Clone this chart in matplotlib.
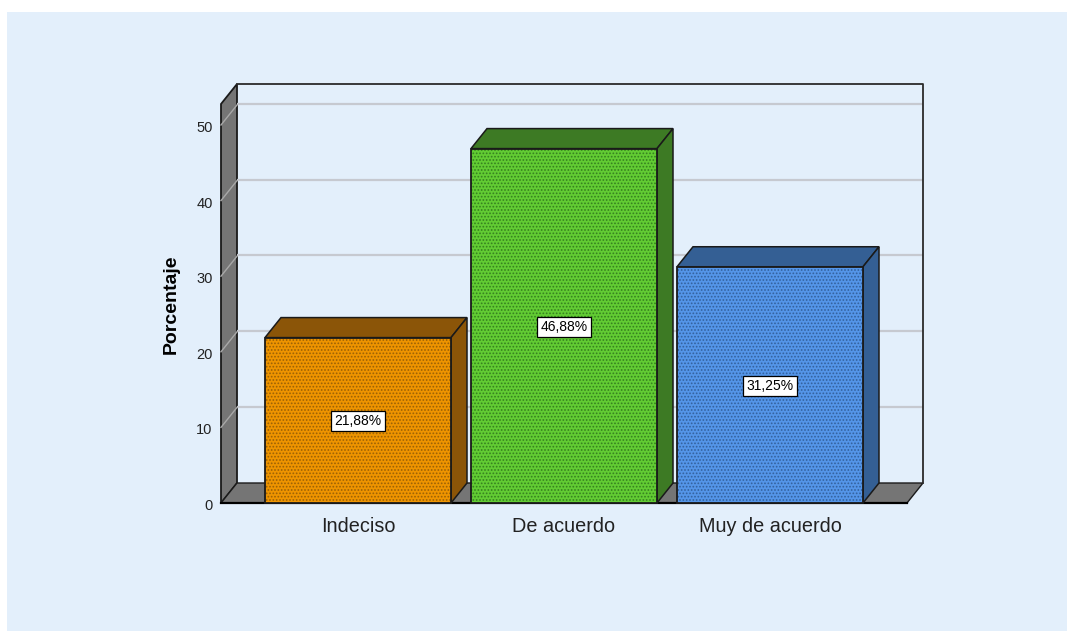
#!/usr/bin/env python3
"""Pseudo-3D bar chart of agreement levels (SPSS style)."""

import matplotlib
matplotlib.use("Agg")
import matplotlib.pyplot as plt
from matplotlib.patches import Polygon, Rectangle
from matplotlib.transforms import ScaledTranslation

plt.rcParams["font.family"] = ["Liberation Sans", "DejaVu Sans"]
plt.rcParams["hatch.linewidth"] = 0.8

categories = ["Indeciso", "De acuerdo", "Muy de acuerdo"]
values = [21.88, 46.88, 31.25]
labels = ["21,88%", "46,88%", "31,25%"]
y_ticks = [0, 10, 20, 30, 40, 50]

front_colors = ["#EE9400", "#62CC33", "#5495E8"]
hatch_colors = ["#9A6006", "#35801F", "#33609C"]
dark_colors = ["#8B5508", "#3D7A24", "#345F94"]

W, H = 1067, 632
PANEL = "#E3EFFB"
WALL = "#757575"
GRID = "#C6C9D0"
EDGE = "#1A1A1A"

fig = plt.figure(figsize=(W / 100, H / 100), dpi=100, facecolor="white")
fig.add_artist(Rectangle((7 / W, 1 - 631 / H), 1060 / W, 619 / H,
                         transform=fig.transFigure, facecolor=PANEL,
                         edgecolor="none", zorder=-5))

# Axes cover the front plane of the box
ax = fig.add_axes([221 / W, 1 - 503 / H, 686 / W, 399 / H])
ax.patch.set_alpha(0)
xmin, xmax = (221 - 358) / 206, (907 - 358) / 206
ymax = 399 / 7.56
ax.set_xlim(xmin, xmax)
ax.set_ylim(0, ymax)
for s in ax.spines.values():
    s.set_visible(False)

# depth offset of the 3D box, in data units
dx = 16 / 206
dy = 20 / 7.56


def poly(pts, **kw):
    kw.setdefault("clip_on", False)
    ax.add_patch(Polygon(pts, closed=True, **kw))


# left wall and floor
poly([(xmin, 0), (xmin + dx, dy), (xmin + dx, ymax + dy), (xmin, ymax)],
     facecolor=WALL, edgecolor=EDGE, lw=1.3, zorder=1)
poly([(xmin, 0), (xmax, 0), (xmax + dx, dy), (xmin + dx, dy)],
     facecolor=WALL, edgecolor=EDGE, lw=1.0, zorder=1)

# gridlines on the back wall and across the left wall
for t in y_ticks[1:]:
    ax.plot([xmin + dx, xmax + dx], [t + dy + 0.1, t + dy + 0.1], color=GRID, lw=1.6,
            clip_on=False, zorder=2, solid_capstyle="butt")
    ax.plot([xmin, xmin + dx], [t, t + dy], color="#A8A8A8", lw=1.0,
            clip_on=False, zorder=2)

# back wall frame
ax.plot([xmin + dx, xmax + dx, xmax + dx], [ymax + dy, ymax + dy, dy],
        color="#2A2A2A", lw=1.3, clip_on=False, zorder=2)
ax.plot([xmin, xmax], [0, 0], color="black", lw=1.6, clip_on=False, zorder=3)

# bars
bar_w = 186 / 206
for i, (v, fc, hc, dc) in enumerate(zip(values, front_colors, hatch_colors, dark_colors)):
    x0, x1 = i - bar_w / 2, i + bar_w / 2
    poly([(x0, v), (x1, v), (x1 + dx, v + dy), (x0 + dx, v + dy)],
         facecolor=dc, edgecolor=EDGE, lw=1.1, zorder=4)
    poly([(x1, 0), (x1 + dx, dy), (x1 + dx, v + dy), (x1, v)],
         facecolor=dc, edgecolor=EDGE, lw=1.1, zorder=4)
    ax.bar(i, v, width=bar_w, facecolor=fc, edgecolor=hc, hatch=".....", lw=0, zorder=5)
    ax.bar(i, v, width=bar_w, facecolor="none", edgecolor=EDGE, lw=1.3, zorder=6,
           clip_on=False)
    ax.text(i, v / 2 - 0.12, labels[i], ha="center", va="center", fontsize=10, color="black",
            zorder=7, bbox=dict(boxstyle="square,pad=0.22", facecolor="white",
                                edgecolor="black", lw=0.9))

ax.set_xticks(range(len(categories)), categories)
ax.set_yticks(y_ticks)
ax.tick_params(axis="x", length=0, pad=10, labelsize=14.3, labelcolor="#222222")
ax.tick_params(axis="y", length=0, pad=6, labelsize=10.5, labelcolor="#222222")
# tick labels sit a little under their gridline ends
shift = ScaledTranslation(0, -1.5 / 100, fig.dpi_scale_trans)
for lab in ax.get_yticklabels():
    lab.set_transform(lab.get_transform() + shift)
ax.set_ylabel("Porcentaje", fontsize=14, fontweight="bold")
ax.yaxis.set_label_coords((180 - 221) / 686, (503 - 304) / 399)

fig.savefig("out.png", dpi=100)
